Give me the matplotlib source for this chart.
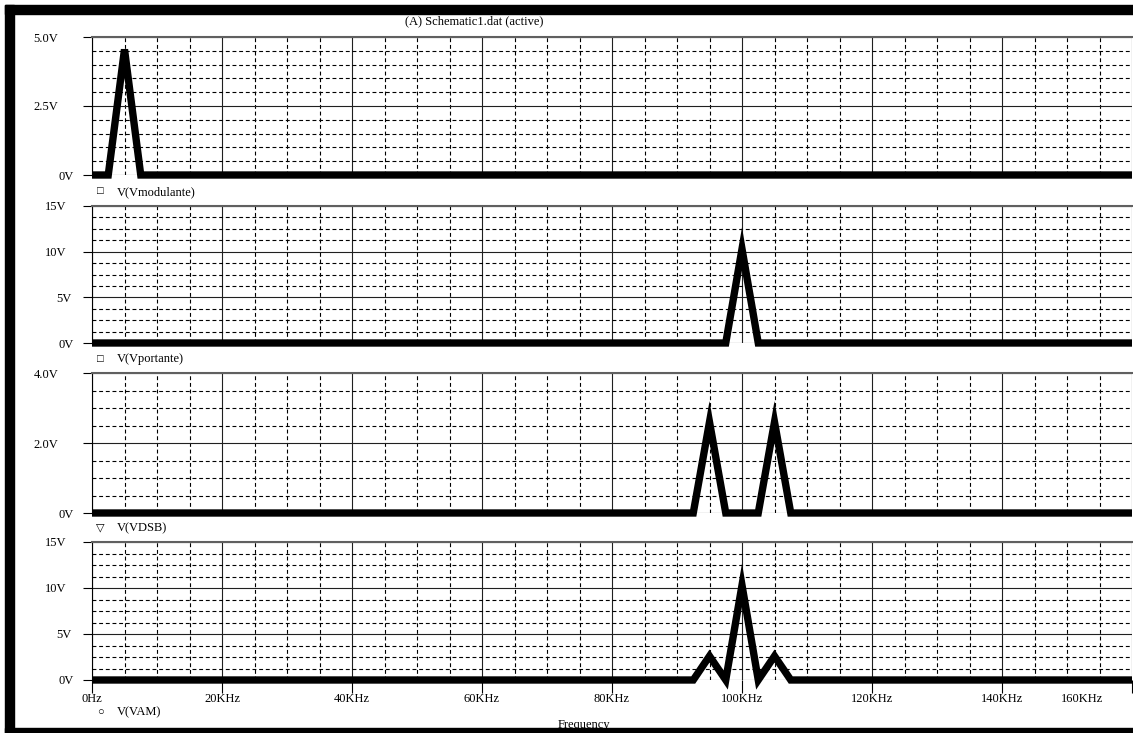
import matplotlib
matplotlib.use("Agg")
import matplotlib.pyplot as plt
import matplotlib.transforms as mtrans
from matplotlib.ticker import MultipleLocator
from matplotlib.patches import Rectangle

#======================================================
# 데이터 (주파수 KHz, 전압 V)
#======================================================
freq_mod = [0, 2.5, 5, 7.5, 160]
v_mod = [0, 0, 4.55, 0, 0]

freq_port = [0, 97.5, 100, 102.5, 160]
v_port = [0, 0, 10.3, 0, 0]

freq_dsb = [0, 92.5, 95, 97.5, 102.5, 105, 107.5, 160]
v_dsb = [0, 0, 2.6, 0, 0, 2.6, 0, 0]

freq_am = [0, 92.5, 95, 97.5, 100, 102.5, 105, 107.5, 160]
v_am = [0, 0, 2.6, 0, 10.3, 0, 2.6, 0, 0]

x_ticks = [0, 20, 40, 60, 80, 100, 120, 140, 160]
x_labels = ["0Hz", "20KHz", "40KHz", "60KHz", "80KHz", "100KHz", "120KHz", "140KHz", "160KHz"]

legend_names = ["V(Vmodulante)", "V(Vportante)", "V(VDSB)", "V(VAM)"]
legend_marks = ["\u25a1", "\u25a1", "\u25bd", "\u25cb"]

title = "(A) Schematic1.dat (active)"

#======================================================
# 그림 설정 (픽셀 단위 배치)
#======================================================
plt.rcParams['font.family'] = ['Liberation Serif', 'DejaVu Sans']
W, H = 1133, 733
fig = plt.figure(figsize=(W / 100, H / 100), dpi=100)
fig.patch.set_facecolor("white")

# (top, bottom, freq, volts, ymax, yticks, ylabels, minor step, legend y)
panels = [
    (37, 175, freq_mod, v_mod, 5.0, [0, 2.5, 5.0], ["0V", "2.5V", "5.0V"], 0.5, 192),
    (206, 343, freq_port, v_port, 15, [0, 5, 10, 15], ["0V", "5V", "10V", "15V"], 1.25, 359),
    (373, 513, freq_dsb, v_dsb, 4.0, [0, 2.0, 4.0], ["0V", "2.0V", "4.0V"], 0.5, 528),
    (542, 680, freq_am, v_am, 15, [0, 5, 10, 15], ["0V", "5V", "10V", "15V"], 1.25, 712),
]

# y 라벨의 좌우 위치 보정 (픽셀)
label_shift = {"0V": 0, "5V": -2, "10V": -7, "15V": -7,
               "2.5V": -15, "5.0V": -15, "2.0V": -15, "4.0V": -15}

x_left, x_right = 92, 1132
for i, (top, bot, fr, vv, ymax, yt, yl, ystep, ly) in enumerate(panels):
    ax = fig.add_axes([x_left / W, 1 - bot / H, (x_right - x_left) / W, (bot - top) / H])
    ax.set_xlim(0, 160)
    ax.set_ylim(0, ymax)

    # 격자: 실선 주격자, 점선 보조격자
    ax.xaxis.set_major_locator(MultipleLocator(20))
    ax.xaxis.set_minor_locator(MultipleLocator(5))
    ax.set_yticks(yt, yl)
    ax.yaxis.set_minor_locator(MultipleLocator(ystep))
    ax.grid(which="major", color="#202020", lw=0.8, ls="-")
    ax.grid(which="minor", color="black", lw=0.8, ls=(0, (3.5, 2.5)))
    ax.set_axisbelow(True)

    ax.plot(fr, vv, color="black", lw=5.3, solid_joinstyle="miter",
            solid_capstyle="butt", clip_on=False, zorder=5)

    for s in ["right", "bottom"]:
        ax.spines[s].set_visible(False)
    ax.spines["top"].set_color("#606060")
    ax.spines["top"].set_linewidth(1.5)
    ax.spines["left"].set_color("black")
    ax.spines["left"].set_linewidth(0.8)

    ax.tick_params(axis="y", which="major", length=6.5, width=0.8, pad=7,
                   labelsize=9, direction="out")
    ax.tick_params(axis="y", which="minor", length=0)
    ax.tick_params(axis="x", which="minor", length=0)

    for lab in ax.get_yticklabels():
        dx = label_shift.get(lab.get_text(), 0) / 100
        lab.set_transform(lab.get_transform() + mtrans.ScaledTranslation(dx, 0, fig.dpi_scale_trans))

    if i == 3:
        ax.set_xticks(x_ticks, x_labels)
        ax.tick_params(axis="x", which="major", length=9, width=0.8, pad=0.5,
                       labelsize=9, direction="out")
        # 마지막 라벨은 왼쪽으로 밀어서 표시
        last = ax.get_xticklabels()[-1]
        last.set_transform(last.get_transform() + mtrans.ScaledTranslation(-0.5, 0, fig.dpi_scale_trans))
    else:
        ax.tick_params(axis="x", which="major", length=0, labelbottom=False)

    # 범례 (기호 + 이름)
    fig.text(100 / W, 1 - ly / H, legend_marks[i], fontsize=8, ha="center", va="center")
    fig.text(117 / W, 1 - ly / H, legend_names[i], fontsize=9, ha="left", va="center")

fig.text(474 / W, 1 - 21 / H, title, fontsize=9, ha="center", va="center")
fig.text(584 / W, 1 - 725 / H, "Frequency", fontsize=9, ha="center", va="center")

# 검은 테두리
fig.add_artist(Rectangle((5 / W, 1 - 14 / H), 1, 9 / H, transform=fig.transFigure,
                         color="black", zorder=20))
fig.add_artist(Rectangle((5 / W, 0), 9 / W, 1 - 5 / H, transform=fig.transFigure,
                         color="black", zorder=20))
fig.add_artist(Rectangle((5 / W, 0), 1, 5 / H, transform=fig.transFigure,
                         color="black", zorder=20))

fig.savefig("out.png", dpi=100)
